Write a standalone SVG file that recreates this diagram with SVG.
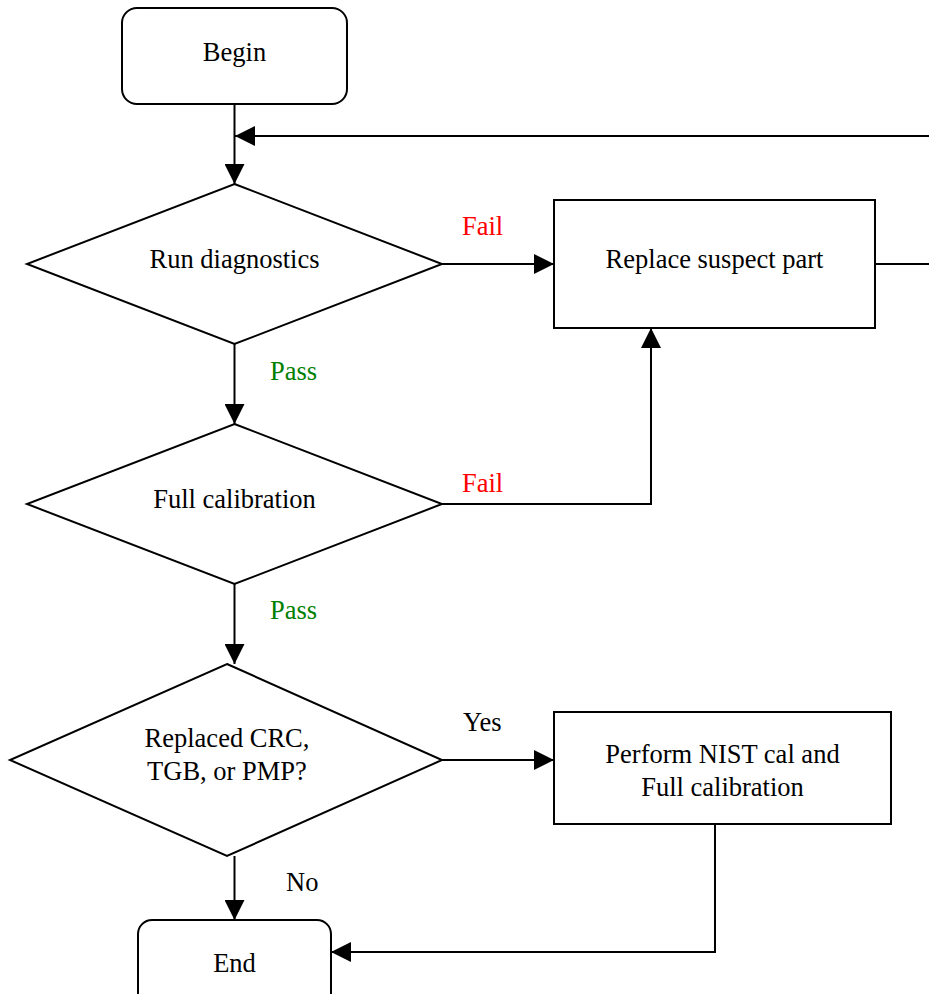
<svg xmlns="http://www.w3.org/2000/svg" width="929" height="994" viewBox="0 0 929 994">
<style>
.shape{fill:#fff;stroke:#000;stroke-width:2}
.edge{fill:none;stroke:#000;stroke-width:2}
text{font-size:26.5px;text-anchor:middle;fill:#000}
.lbl{text-anchor:start}
.fail{fill:#ff0000}
.pass{fill:#008000}
</style>
<defs>
<marker id="arr" markerUnits="userSpaceOnUse" markerWidth="20" markerHeight="20" refX="20" refY="10" orient="auto">
<path d="M0,0 L20,10 L0,20 z" fill="#000"/>
</marker>
</defs>
<rect width="929" height="994" fill="#fff"/>
<g id="connectors">
<path class="edge" d="M234.5,104 V184" marker-end="url(#arr)"/>
<path class="edge" d="M442,264 H554" marker-end="url(#arr)"/>
<path class="edge" d="M875,264 H929"/>
<path class="edge" d="M929,136 H235" marker-end="url(#arr)"/>
<path class="edge" d="M234.5,344 V424" marker-end="url(#arr)"/>
<path class="edge" d="M442,504 H651 V328" marker-end="url(#arr)"/>
<path class="edge" d="M234.5,584 V664" marker-end="url(#arr)"/>
<path class="edge" d="M442,760 H554" marker-end="url(#arr)"/>
<path class="edge" d="M234.5,856 V920" marker-end="url(#arr)"/>
<path class="edge" d="M715,824 V952 H331" marker-end="url(#arr)"/>
</g>
<g id="labels" font-family="Liberation Serif, Times New Roman, Times, DejaVu Serif, serif">
<text class="lbl fail" x="462" y="235">Fail</text>
<text class="lbl pass" x="270" y="380">Pass</text>
<text class="lbl fail" x="462" y="492">Fail</text>
<text class="lbl pass" x="270" y="619">Pass</text>
<text class="lbl" x="463" y="731">Yes</text>
<text class="lbl" x="286" y="891">No</text>
</g>
<g id="nodes" font-family="Liberation Serif, Times New Roman, Times, DejaVu Serif, serif">
<g id="begin">
<rect class="shape" x="122" y="8" width="225" height="96" rx="15"/>
<text x="234.5" y="61">Begin</text>
</g>
<g id="run-diagnostics">
<polygon class="shape" points="234.5,184 442,264 234.5,344 27,264"/>
<text x="234.5" y="268">Run diagnostics</text>
</g>
<g id="replace-suspect-part">
<rect class="shape" x="554" y="200" width="321" height="128"/>
<text x="714.5" y="268">Replace suspect part</text>
</g>
<g id="full-calibration">
<polygon class="shape" points="234.5,424 442,504 234.5,584 27,504"/>
<text x="234.5" y="508">Full calibration</text>
</g>
<g id="replaced-check">
<polygon class="shape" points="227,664 442,760 227,856 10,760"/>
<text x="227" y="747">Replaced CRC,</text>
<text x="227" y="780">TGB, or PMP?</text>
</g>
<g id="perform-nist">
<rect class="shape" x="554" y="712" width="337" height="112"/>
<text x="722.5" y="763">Perform NIST cal and</text>
<text x="722.5" y="796">Full calibration</text>
</g>
<g id="end">
<rect class="shape" x="138" y="920" width="193" height="96" rx="14"/>
<text x="234.5" y="972">End</text>
</g>
</g>
</svg>
